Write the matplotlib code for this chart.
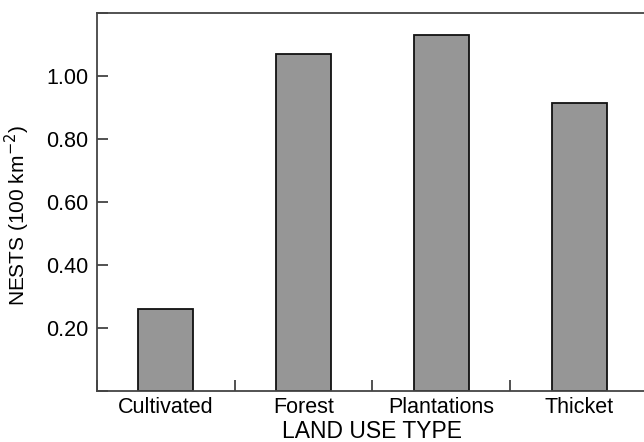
import numpy as np
import matplotlib
matplotlib.use('Agg')
import matplotlib.pyplot as plt

plt.rcParams['font.family'] = ['Liberation Sans', 'DejaVu Sans']

land_use = ['Cultivated', 'Forest', 'Plantations', 'Thicket']
nests = [0.26, 1.07, 1.13, 0.915]
y_ticks = [0.0, 0.2, 0.4, 0.6, 0.8, 1.0, 1.2]
y_labels = ['', '0.20', '0.40', '0.60', '0.80', '1.00', '']

fig = plt.figure(figsize=(6.44, 4.42), dpi=100)
# axes runs slightly past the right edge, like the cropped original
ax = fig.add_axes([97/644, 51/442, 551/644, 378/442])

x = np.arange(len(land_use))
ax.bar(x, nests, width=0.4, color='#969696', edgecolor='#111111', linewidth=1.3)

ax.set_xlim(-0.5, len(land_use) - 0.5)
ax.set_ylim(0, 1.2)

ax.set_yticks(y_ticks)
ax.set_yticklabels(y_labels)
ax.set_xticks(np.arange(-0.5, len(land_use), 1.0))
ax.set_xticklabels([])
ax.set_xticks(x, minor=True)
ax.set_xticklabels(land_use, minor=True)

ax.tick_params(axis='both', which='major', direction='in', length=8, width=1.2,
               color='#333333', labelsize=15.5)
ax.tick_params(axis='x', which='minor', length=0, labelsize=15.5, pad=4)
ax.tick_params(axis='y', pad=6)

for side in ['left', 'bottom', 'top']:
    ax.spines[side].set_color('#444444')
    ax.spines[side].set_linewidth(1.3)
ax.spines['right'].set_visible(False)

ax.set_xlabel('LAND USE TYPE', fontsize=16.5)
ax.set_ylabel('NESTS (100 km$^{-2}$)', fontsize=15)
ax.yaxis.set_label_coords(-0.118, 0.465)
ax.xaxis.set_label_coords(0.5, -0.078)

fig.savefig('out.png', dpi=100)
